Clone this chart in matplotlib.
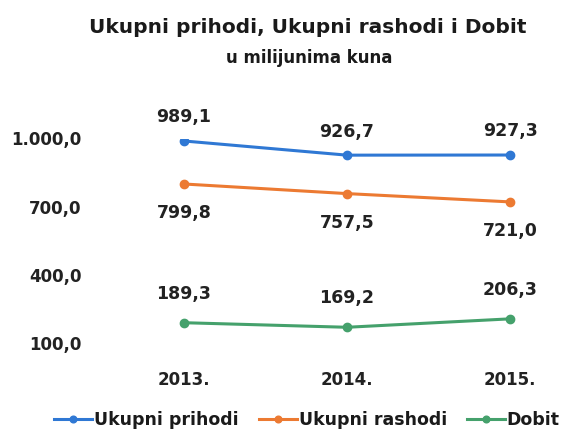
import matplotlib
matplotlib.use('Agg')
import matplotlib.pyplot as plt

years = ['2013.', '2014.', '2015.']
prihodi = [989.1, 926.7, 927.3]
rashodi = [799.8, 757.5, 721.0]
dobit = [189.3, 169.2, 206.3]
y_ticks = [100, 400, 700, 1000]
y_tick_labels = ['100,0', '400,0', '700,0', '1.000,0']

plt.rcParams['font.family'] = ['DejaVu Sans']
plt.rcParams['font.weight'] = 'bold'


def fmt(v):
    return f"{v:.1f}".replace('.', ',')


fig = plt.figure(figsize=(5.63, 4.34), dpi=100)
# axes placed in pixel terms: x 0 -> 184px, 2 -> 510px; y 100 -> 343px, 1000 -> 138.5px
ax = fig.add_axes([118.8 / 563, (434 - 343) / 434, 440.1 / 563, 204.5 / 434])

series = [
    (prihodi, '#2f78d4', 'Ukupni prihodi', 17),
    (rashodi, '#ec7a32', 'Ukupni rashodi', -21),
    (dobit, '#45a16c', 'Dobit', 21),
]
x = list(range(len(years)))
for vals, col, name, off in series:
    ax.plot(x, vals, color=col, lw=2.2, marker='o', ms=6, label=name)
    for xi, v in zip(x, vals):
        ax.annotate(fmt(v), (xi, v), xytext=(0, off), textcoords='offset points',
                    ha='center', va='center', fontsize=12.5, fontweight='bold',
                    color='#222222')

ax.set_xlim(-0.4, 2.3)
ax.set_ylim(100, 1000)
ax.set_xticks(x)
ax.set_xticklabels(years, fontsize=12, fontweight='bold', color='#222222')
ax.set_yticks(y_ticks)
ax.set_yticklabels(y_tick_labels, fontsize=12, fontweight='bold', color='#222222')
ax.tick_params(length=0)
ax.tick_params(axis='x', pad=20)
ax.tick_params(axis='y', pad=27)
for s in ax.spines.values():
    s.set_visible(False)

fig.text(308 / 563, 1 - 33 / 434, 'Ukupni prihodi, Ukupni rashodi i Dobit', ha='center',
         va='baseline', fontsize=14.5, fontweight='bold', color='#1a1a1a')
fig.text(309 / 563, 1 - 63 / 434, 'u milijunima kuna', ha='center', va='baseline',
         fontsize=12, fontweight='bold', color='#1a1a1a')

leg = fig.legend(loc='center', bbox_to_anchor=(307 / 563, 1 - 420 / 434), ncol=3,
                 frameon=False, handlelength=2.2, handletextpad=0.1,
                 columnspacing=1.15, markerscale=0.8, borderpad=0,
                 prop={'weight': 'bold', 'size': 12.5})
for t in leg.get_texts():
    t.set_color('#1a1a1a')

fig.savefig('out.png', dpi=100)
